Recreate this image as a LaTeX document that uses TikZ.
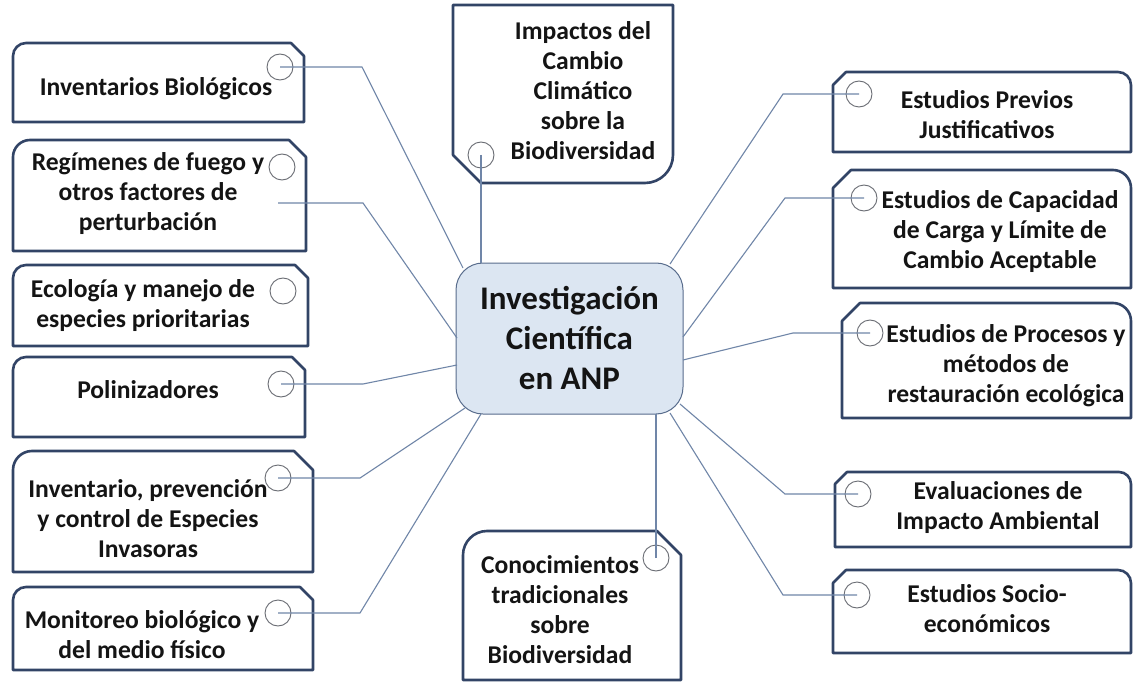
\documentclass[tikz,border=0pt]{standalone}
\usepackage{fontspec}
\setmainfont{Carlito}
\definecolor{boxline}{RGB}{50,68,102}
\definecolor{connline}{RGB}{112,134,168}
\definecolor{ringline}{RGB}{105,108,115}
\definecolor{centerfill}{RGB}{220,230,242}
\definecolor{centerline}{RGB}{88,108,140}
\definecolor{txt}{RGB}{20,20,20}
\tikzset{
  tagbox/.style={draw=boxline, line width=2.6pt, line join=round},
  conn/.style={draw=connline, line width=1.1pt},
  ring/.style={circle, draw=ringline, line width=0.9pt, minimum size=26pt, inner sep=0pt},
  lbl/.style={font=\fontsize{25.6}{30}\selectfont\bfseries, text=txt, align=center, inner sep=0pt},
  hub/.style={draw=centerline, fill=centerfill, line width=1pt, rounded corners=27pt,
    minimum width=227pt, minimum height=151pt, align=center, text=txt,
    font=\fontsize{33}{40}\selectfont\bfseries, inner sep=0pt}
}
% left tag: rounded top-left, chamfered top-right
\newcommand{\lefttag}[5]{\draw[tagbox] (#1,#4) -- (#1,{#2+#5}) .. controls (#1,{#2+0.45*#5}) and ({#1+0.45*#5},#2) .. ({#1+#5},#2) -- ({#3-#5},#2) -- (#3,{#2+#5}) -- (#3,#4) -- cycle;}
% right tag: chamfered top-left, rounded top-right
\newcommand{\righttag}[5]{\draw[tagbox] (#1,#4) -- (#1,{#2+#5}) -- ({#1+#5},#2) -- ({#3-#5},#2) .. controls ({#3-0.45*#5},#2) and (#3,{#2+0.45*#5}) .. (#3,{#2+#5}) -- (#3,#4) -- cycle;}
% top tag: square top corners, chamfered bottom-left, rounded bottom-right
\newcommand{\toptag}[5]{\draw[tagbox] (#1,#2) -- (#3,#2) -- (#3,{#4-#5}) .. controls (#3,{#4-0.45*#5}) and ({#3-0.45*#5},#4) .. ({#3-#5},#4) -- ({#1+#5},#4) -- (#1,{#4-#5}) -- cycle;}
\begin{document}
\begin{tikzpicture}[x=1pt,y=-1pt]
\useasboundingbox[fill=white] (0,0) rectangle (1135,682);

% central node
\node[hub] (hub) at (569.5,338.5) {Investigación\\Científica\\en ANP};

% boxes
\lefttag{13}{43}{304}{122}{13}
\lefttag{13}{140}{306}{251}{17}
\lefttag{13}{265}{308}{346}{13}
\lefttag{13}{357}{305}{437}{13}
\lefttag{13}{451}{313}{572}{19}
\lefttag{13}{587}{313}{670}{13}
\toptag{453}{5}{673}{183}{28}
\lefttag{463}{531}{681}{680}{24}
\righttag{833}{72}{1131}{152}{13}
\righttag{833}{170}{1131}{288}{18}
\righttag{842}{303}{1131}{418}{18}
\righttag{835}{472}{1131}{547}{12}
\righttag{833}{570}{1131}{653}{13}

% labels
\node[lbl] (tL1) at (156,89) {Inventarios Biológicos};
\node[lbl] (tL2) at (148,194) {Regímenes de fuego y\\otros factores de\\perturbación};
\node[lbl] (tL3) at (143,306) {Ecología y manejo de\\especies prioritarias};
\node[lbl] (tL4) at (148,390) {Polinizadores};
\node[lbl] (tL5) at (148,519) {Inventario, prevención\\y control de Especies\\Invasoras};
\node[lbl] (tL6) at (142,635) {Monitoreo biológico y\\del medio físico};
\node[lbl] (tT) at (583,91) {Impactos del\\Cambio\\Climático\\sobre la\\Biodiversidad};
\node[lbl] (tB) at (560,610) {Conocimientos\\tradicionales\\sobre\\Biodiversidad};
\node[lbl] (tR1) at (987,115) {Estudios Previos\\Justificativos};
\node[lbl] (tR2) at (1000,232) {Estudios de Capacidad\\de Carga y Límite de\\Cambio Aceptable};
\node[lbl] (tR3) at (1006,366) {Estudios de Procesos y\\métodos de\\restauración ecológica};
\node[lbl] (tR4) at (998,508) {Evaluaciones de\\Impacto Ambiental};
\node[lbl] (tR5) at (987,609) {Estudios Socio-\\económicos};

% rings
\node[ring] (cL1) at (280,67) {};
\node[ring] (cL2) at (282,167) {};
\node[ring] (cL3) at (283,291) {};
\node[ring] (cL4) at (281,384) {};
\node[ring] (cL5) at (278,478) {};
\node[ring] (cL6) at (278,613) {};
\node[ring] (cT) at (481,155) {};
\node[ring] (cB) at (656,558) {};
\node[ring] (cR1) at (859,94) {};
\node[ring] (cR2) at (864,198) {};
\node[ring] (cR3) at (870,333) {};
\node[ring] (cR4) at (858,494) {};
\node[ring] (cR5) at (857,595) {};

% connector points
\coordinate (kL1) at (362,67);   \coordinate (eL1) at (463,268);
\coordinate (sL2) at (278,203);  \coordinate (kL2) at (363,203); \coordinate (eL2) at (457,338);
\coordinate (kL4) at (363,384);  \coordinate (eL4) at (457,365);
\coordinate (kL5) at (360,478);  \coordinate (eL5) at (465,408);
\coordinate (kL6) at (360,613);  \coordinate (eL6) at (481,414);
\coordinate (eT) at (481,263);
\coordinate (eB) at (656,414);
\coordinate (kR1) at (783,94);   \coordinate (eR1) at (670,264);
\coordinate (kR2) at (785,198);  \coordinate (eR2) at (683,337);
\coordinate (kR3) at (793,333);  \coordinate (eR3) at (683,360);
\coordinate (kR4) at (785,494);  \coordinate (eR4) at (680,404);
\coordinate (kR5) at (783,595);  \coordinate (eR5) at (670,413);

% connectors
\draw[conn] (cL1.center) -- (kL1) -- (eL1);
\draw[conn] (sL2) -- (kL2) -- (eL2);
\draw[conn] (cL4.center) -- (kL4) -- (eL4);
\draw[conn] (cL5.center) -- (kL5) -- (eL5);
\draw[conn] (cL6.center) -- (kL6) -- (eL6);
\draw[conn] (cT.center) -- (eT);
\draw[conn] (cB.center) -- (eB);
\draw[conn] (cR1.center) -- (kR1) -- (eR1);
\draw[conn] (cR2.center) -- (kR2) -- (eR2);
\draw[conn] (cR3.center) -- (kR3) -- (eR3);
\draw[conn] (cR4.center) -- (kR4) -- (eR4);
\draw[conn] (cR5.center) -- (kR5) -- (eR5);
\end{tikzpicture}
\end{document}
